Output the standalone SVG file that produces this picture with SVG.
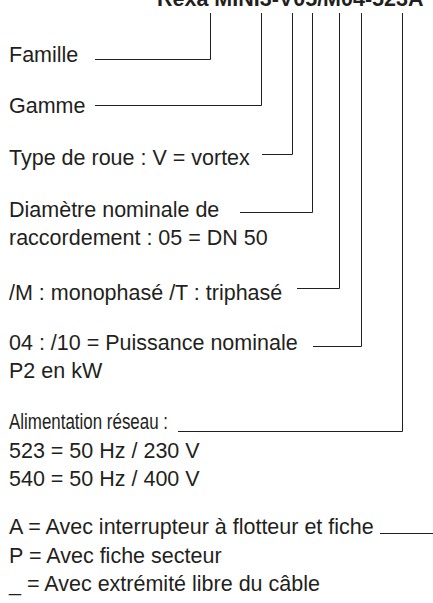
<svg xmlns="http://www.w3.org/2000/svg" width="433" height="603" viewBox="0 0 433 603">
<style>
.t{font-family:"Liberation Sans",Arial,Helvetica,sans-serif;font-size:21.5px;fill:#231f20}
.title{font-family:"Liberation Sans",Arial,Helvetica,sans-serif;font-size:21.5px;font-weight:bold;fill:#231f20}
.c{fill:none;stroke:#231f20;stroke-width:1}
</style>
<rect width="433" height="603" fill="#ffffff"/>
<g id="title"><text class="title" x="157" y="6">Rexa MINI3-V05/M04-523A</text></g>
<g id="connectors">
<path class="c" d="M95,59.5 H210.5 V13"/>
<path class="c" d="M95,105.5 H261.5 V13"/>
<path class="c" d="M262,154.5 H292.5 V13"/>
<path class="c" d="M240,212.5 H312.5 V13"/>
<path class="c" d="M297,288.5 H339.5 V13"/>
<path class="c" d="M313,346.5 H361.5 V13"/>
<path class="c" d="M178,431.5 H402.5 V13"/>
<path class="c" d="M380,533.5 H440"/>
</g>
<g id="famille"><text class="t" x="9" y="62">Famille</text></g>
<g id="gamme"><text class="t" x="9" y="113">Gamme</text></g>
<g id="roue"><text class="t" x="9" y="165">Type de roue : V = vortex</text></g>
<g id="diametre"><text class="t" x="9" y="217">Diamètre nominale de</text><text class="t" x="9" y="244.5">raccordement : 05 = DN 50</text></g>
<g id="phase"><text class="t" x="9" y="299.5">/M : monophasé /T : triphasé</text></g>
<g id="puissance"><text class="t" x="9" y="350">04 : /10 = Puissance nominale</text><text class="t" x="9" y="377.5">P2 en kW</text></g>
<g id="alimentation"><text class="t" x="9" y="428.5" textLength="159" lengthAdjust="spacingAndGlyphs">Alimentation réseau :</text><text class="t" x="9" y="457.5">523 = 50 Hz / 230 V</text><text class="t" x="9" y="486">540 = 50 Hz / 400 V</text></g>
<g id="option"><text class="t" x="9" y="534">A = Avec interrupteur à flotteur et fiche</text><text class="t" x="9" y="562.5">P = Avec fiche secteur</text><text class="t" x="9" y="591">_ = Avec extrémité libre du câble</text></g>
</svg>
